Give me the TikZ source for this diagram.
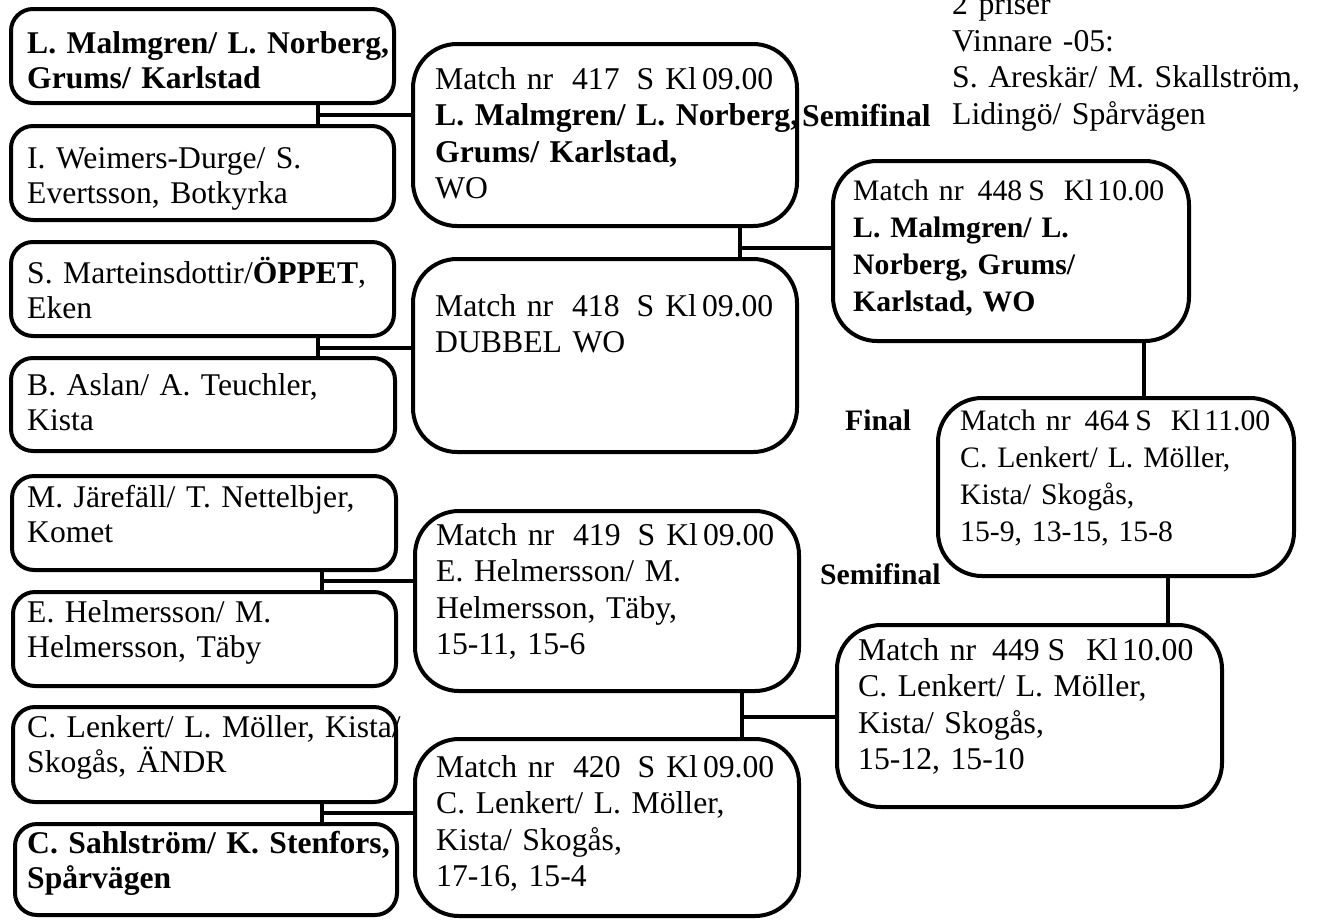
\documentclass[tikz,border=0pt]{standalone}
\usepackage{fontspec}
\setmainfont{Liberation Serif}
\begin{document}
\begin{tikzpicture}[x=1pt,y=-1pt,
  lbox/.style={draw, line width=4pt, rounded corners=22pt, anchor=north west, inner sep=0pt, outer sep=0pt},
  mbox/.style={draw, line width=4pt, rounded corners=44pt, anchor=north west, inner sep=0pt, outer sep=0pt},
  conn/.style={line width=4pt},
  ltxt/.style={anchor=base west, inner sep=0pt, text width=420pt, align=left, font=\fontsize{31.6pt}{35.5pt}\selectfont},
  mtxt/.style={anchor=base west, inner sep=0pt, text width=420pt, align=left, font=\fontsize{31.7pt}{36.5pt}\selectfont},
  stxt/.style={anchor=base west, inner sep=0pt, text width=420pt, align=left, font=\fontsize{29.7pt}{37.3pt}\selectfont},
  lbl/.style={anchor=base west, inner sep=0pt, font=\bfseries\fontsize{29.7pt}{36pt}\selectfont},
]
\clip (0,0) rectangle (1339,919);
% left column boxes
\node[lbox, minimum width=383pt, minimum height=94pt] (b1) at (11,9) {};
\node[lbox, minimum width=383pt, minimum height=94pt] (b2) at (11,126) {};
\node[lbox, minimum width=383pt, minimum height=94pt] (b3) at (11,242) {};
\node[lbox, minimum width=384pt, minimum height=93pt] (b4) at (11,358) {};
\node[lbox, minimum width=384pt, minimum height=94pt] (b5) at (12,476) {};
\node[lbox, minimum width=383pt, minimum height=94pt] (b6) at (13,592) {};
\node[lbox, minimum width=383pt, minimum height=95pt] (b7) at (13,707) {};
\node[lbox, minimum width=382pt, minimum height=91pt] (b8) at (15,824) {};
% match boxes
\node[mbox, minimum width=384pt, minimum height=182pt] (m417) at (413,44) {};
\node[mbox, minimum width=384pt, minimum height=193pt] (m418) at (413,259) {};
\node[mbox, minimum width=384pt, minimum height=180pt] (m419) at (415,511) {};
\node[mbox, minimum width=384pt, minimum height=177pt] (m420) at (415,739) {};
\node[mbox, minimum width=356pt, minimum height=180pt] (m448) at (833,161) {};
\node[mbox, minimum width=356pt, minimum height=178pt] (m464) at (938,398) {};
\node[mbox, minimum width=385pt, minimum height=182pt] (m449) at (837,625) {};
% left texts
\node[ltxt] (t1) at (27,53) {\textbf{L. Malmgren/ L. Norberg,}\\\textbf{Grums/ Karlstad}};
\node[ltxt] (t2) at (27,168) {I. Weimers-Durge/ S.\\Evertsson, Botkyrka};
\node[ltxt] (t3) at (27,283) {S. Marteinsdottir/\textbf{ÖPPET},\\Eken};
\node[ltxt] (t4) at (27,395) {B. Aslan/ A. Teuchler,\\Kista};
\node[ltxt] (t5) at (27,507) {M. Järefäll/ T. Nettelbjer,\\Komet};
\node[ltxt] (t6) at (27,622) {E. Helmersson/ M.\\Helmersson, Täby};
\node[ltxt] (t7) at (27,737) {C. Lenkert/ L. Möller, Kista/\\Skogås, ÄNDR};
\node[ltxt] (t8) at (27,853) {\textbf{C. Sahlström/ K. Stenfors,}\\\textbf{Spårvägen}};
% match texts
\node[mtxt] (u417) at (435,89) {Match nr\hspace{19pt}417\hspace{17pt}S\hspace{11pt}Kl\hspace{5pt}09.00\\\textbf{L. Malmgren/ L. Norberg,}\\\textbf{Grums/ Karlstad,}\\WO};
\node[mtxt] (u418) at (435,316) {Match nr\hspace{19pt}418\hspace{17pt}S\hspace{11pt}Kl\hspace{5pt}09.00\\DUBBEL WO};
\node[mtxt] (u419) at (436,545) {Match nr\hspace{19pt}419\hspace{17pt}S\hspace{11pt}Kl\hspace{5pt}09.00\\E. Helmersson/ M.\\Helmersson, Täby,\\15-11, 15-6};
\node[mtxt] (u420) at (436,777) {Match nr\hspace{19pt}420\hspace{17pt}S\hspace{11pt}Kl\hspace{5pt}09.00\\C. Lenkert/ L. Möller,\\Kista/ Skogås,\\17-16, 15-4};
\node[stxt] (u448) at (853,200) {Match nr\hspace{14pt}448\hspace{6pt}S\hspace{19pt}Kl\hspace{4pt}10.00\\\textbf{L. Malmgren/ L.}\\\textbf{Norberg, Grums/}\\\textbf{Karlstad, WO}};
\node[stxt] (u464) at (960,430) {Match nr\hspace{14pt}464\hspace{6pt}S\hspace{19pt}Kl\hspace{4pt}11.00\\C. Lenkert/ L. Möller,\\Kista/ Skogås,\\15-9, 13-15, 15-8};
\node[mtxt] (u449) at (858,660) {Match nr\hspace{16pt}449\hspace{8pt}S\hspace{21pt}Kl\hspace{4pt}10.00\\C. Lenkert/ L. Möller,\\Kista/ Skogås,\\15-12, 15-10};
% labels
\node[anchor=base west, inner sep=0pt, font=\bfseries\fontsize{31.7pt}{36.5pt}\selectfont] (semi1) at (802,126) {Semifinal};
\node[lbl] (final) at (845,430) {Final};
\node[lbl] (semi2) at (820,584) {Semifinal};
\node[mtxt] (info) at (952,14.5) {2 priser\\Vinnare -05:\\S. Areskär/ M. Skallström,\\Lidingö/ Spårvägen};
% connectors
\coordinate (j1) at (318,115);
\coordinate (j2) at (318,348);
\coordinate (j3) at (322,581);
\coordinate (j4) at (322,813);
\coordinate (j5) at (740,248);
\coordinate (j6) at (742,717);
\coordinate (k1) at (1144,370);
\coordinate (k2) at (1168,600);
\draw[conn] (b1.south -| j1) -- (b2.north -| j1);
\draw[conn] (j1) -- (j1 -| m417.west);
\draw[conn] (b3.south -| j2) -- (b4.north -| j2);
\draw[conn] (j2) -- (j2 -| m418.west);
\draw[conn] (b5.south -| j3) -- (b6.north -| j3);
\draw[conn] (j3) -- (j3 -| m419.west);
\draw[conn] (b7.south -| j4) -- (b8.north -| j4);
\draw[conn] (j4) -- (j4 -| m420.west);
\draw[conn] (m417.south -| j5) -- (m418.north -| j5);
\draw[conn] (j5) -- (j5 -| m448.west);
\draw[conn] (m419.south -| j6) -- (m420.north -| j6);
\draw[conn] (j6) -- (j6 -| m449.west);
\draw[conn] (m448.south -| k1) -- (m464.north -| k1);
\draw[conn] (m464.south -| k2) -- (m449.north -| k2);
\end{tikzpicture}
\end{document}
